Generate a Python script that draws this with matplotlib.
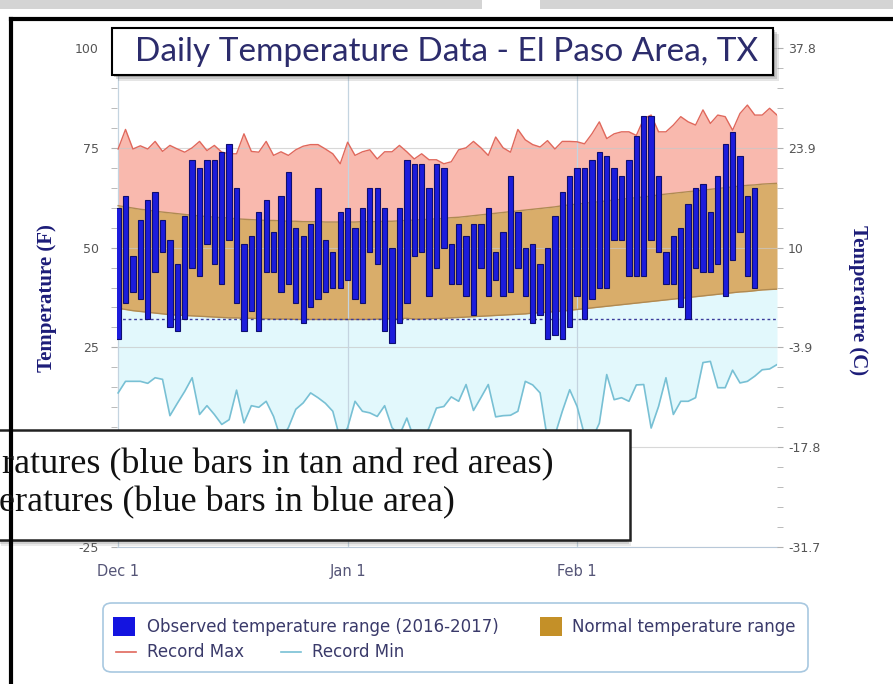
import numpy as np
import matplotlib.pyplot as plt
from matplotlib.patches import Rectangle, FancyBboxPatch
from matplotlib.lines import Line2D

plt.rcParams['axes.unicode_minus'] = False

# daily values in deg F, day 0 = Dec 1 2016
obs_high = [60, 63, 48, 57, 62, 64, 57, 52, 46, 58, 72, 70, 72, 72, 74, 76, 65, 51, 53, 59,
            62, 54, 63, 69, 55, 53, 56, 65, 52, 49, 59, 60, 55, 60, 65, 65, 60, 50, 60, 72,
            71, 71, 65, 71, 70, 51, 56, 53, 56, 56, 60, 49, 54, 68, 59, 50, 51, 46, 50, 58,
            64, 68, 70, 70, 72, 74, 73, 70, 68, 72, 78, 83, 83, 68, 49, 53, 55, 61, 65, 66,
            59, 68, 76, 79, 73, 63, 65]
obs_low = [27, 36, 39, 37, 32, 44, 49, 30, 29, 32, 45, 43, 51, 46, 41, 52, 36, 29, 34, 29,
           44, 44, 39, 41, 36, 31, 35, 37, 39, 40, 40, 42, 37, 36, 49, 46, 29, 26, 31, 36,
           48, 49, 38, 45, 50, 41, 41, 38, 33, 45, 38, 42, 38, 39, 45, 38, 31, 33, 27, 28,
           27, 30, 38, 32, 37, 40, 40, 52, 52, 43, 43, 43, 52, 49, 41, 41, 35, 32, 45, 44,
           44, 46, 38, 47, 54, 43, 40]

rec_max = [74.7, 79.6, 74.7, 75.5, 74.7, 76.6, 74.1, 75.6, 74.7, 73.9, 75.0, 76.6, 74.3, 75.6, 73.9,
           73.5, 73.5, 78.5, 74.1, 73.9, 76.6, 73.1, 74.0, 73.1, 74.5, 75.4, 75.8, 75.8, 74.7, 73.5,
           71.0, 76.4, 73.1, 74.0, 74.5, 72.2, 74.0, 74.0, 75.6, 74.0, 72.2, 73.5, 72.0, 72.0, 71.0,
           71.5, 74.5, 75.0, 76.6, 75.0, 73.1, 77.7, 75.0, 73.9, 79.6, 77.0, 75.8, 75.2, 76.8, 74.7,
           76.6, 76.6, 76.5, 76.0, 78.5, 81.5, 77.3, 78.5, 79.0, 79.0, 78.1, 82.3, 83.2, 79.0, 79.0,
           80.7, 82.8, 81.5, 80.7, 84.5, 81.1, 83.2, 82.8, 79.4, 83.6, 85.7, 83.2, 83.2, 84.9, 83.2]
rec_min = [13.6, 16.5, 16.5, 16.5, 16.0, 17.4, 17.0, 7.9, 11.0, 14.0, 17.4, 8.2, 10.4, 8.2, 5.7,
           6.9, 14.3, 6.1, 10.4, 10.0, 11.5, 7.7, 2.0, 4.9, 9.5, 11.1, 13.6, 12.4, 11.0, 9.0,
           2.0, 4.9, 11.5, 9.0, 8.6, 7.7, 10.4, 4.9, 3.0, 7.3, 2.0, 1.0, 4.9, 9.8, 10.2,
           12.6, 11.5, 15.7, 9.2, 12.4, 15.7, 7.6, 7.9, 8.0, 9.0, 16.5, 15.6, 13.6, 2.0, 3.0,
           9.0, 14.4, 10.2, 3.0, 2.0, 6.0, 18.2, 11.9, 12.4, 11.5, 15.6, 15.7, 4.8, 10.2, 17.4,
           8.2, 11.5, 11.5, 12.4, 21.2, 21.5, 14.9, 14.9, 19.3, 16.1, 16.5, 17.8, 19.4, 19.6, 20.7]
norm_high = [60.5, 60.2, 59.9, 59.6, 59.4, 59.1, 58.9, 58.7, 58.5, 58.3,
             58.1, 57.9, 57.8, 57.6, 57.5, 57.4, 57.2, 57.1, 57.0, 56.9,
             56.8, 56.8, 56.7, 56.6, 56.6, 56.5, 56.5, 56.5, 56.4, 56.4,
             56.4, 56.4, 56.4, 56.5, 56.5, 56.5, 56.6, 56.6, 56.7, 56.8,
             56.9, 57.0, 57.1, 57.2, 57.3, 57.5, 57.6, 57.8, 58.0, 58.2,
             58.4, 58.6, 58.8, 59.0, 59.2, 59.4, 59.6, 59.8, 60.0, 60.2,
             60.5, 60.7, 60.9, 61.1, 61.3, 61.5, 61.7, 61.9, 62.1, 62.3,
             62.5, 62.7, 62.9, 63.2, 63.4, 63.6, 63.8, 64.0, 64.2, 64.4,
             64.6, 64.8, 65.0, 65.2, 65.4, 65.6, 65.7, 65.9, 66.0, 66.1]
norm_low = [34.8, 34.5, 34.2, 34.0, 33.8, 33.6, 33.4, 33.2, 33.1, 33.0,
            32.9, 32.8, 32.7, 32.6, 32.5, 32.4, 32.4, 32.3, 32.3, 32.2,
            32.2, 32.1, 32.1, 32.1, 32.0, 32.0, 32.0, 32.0, 32.0, 32.0,
            32.0, 32.0, 32.0, 32.0, 32.0, 32.1, 32.1, 32.2, 32.2, 32.3,
            32.1, 32.1, 32.2, 32.2, 32.3, 32.4, 32.5, 32.6, 32.7, 32.8,
            32.9, 33.0, 33.1, 33.2, 33.3, 33.4, 33.6, 33.7, 33.8, 34.0,
            34.1, 34.3, 34.5, 34.7, 34.9, 35.1, 35.3, 35.5, 35.7, 35.9,
            36.1, 36.3, 36.5, 36.7, 36.9, 37.1, 37.3, 37.5, 37.7, 37.9,
            38.1, 38.3, 38.5, 38.7, 38.9, 39.0, 39.2, 39.4, 39.5, 39.6]

month_ticks = [0, 31, 62]
month_labels = ['Dec 1', 'Jan 1', 'Feb 1']
f_ticks = [-25, 0, 25, 50, 75, 100]
f_labels = ['-25', '', '25', '50', '75', '100']   # the 0 label sits under the note box
c_labels = ['-31.7', '-17.8', '-3.9', '10', '23.9', '37.8']
freezing = 32

W, H = 893, 684
def fx(x):
    return x / W
def fy(y):
    return 1 - y / H

days = np.arange(len(rec_max))
obs_days = np.arange(len(obs_high))

fig = plt.figure(figsize=(8.93, 6.84), dpi=100)
ax = fig.add_axes([fx(117), fy(547), fx(777) - fx(117), fy(48) - fy(547)])

ax.fill_between(days, rec_min, norm_low, color='#e2f8fc', lw=0, zorder=1)
ax.fill_between(days, norm_high, rec_max, color='#f9b9ae', lw=0, zorder=1)
ax.fill_between(days, norm_low, norm_high, color='#d9ad6a', lw=0, zorder=1)
ax.plot(days, norm_high, color='#b08a52', lw=1, zorder=2)
ax.plot(days, norm_low, color='#b08a52', lw=1, zorder=2)
ax.plot(days, rec_max, color='#e0685c', lw=1, zorder=3)
ax.plot(days, rec_min, color='#78c0d4', lw=1.2, zorder=3)
ax.axhline(freezing, color='#3c3c9c', lw=1, ls=(0, (2, 2)), zorder=3)

for t in f_ticks:
    ax.axhline(t, color='#c8c8c8', lw=0.8, alpha=0.7, zorder=1.5)
for t in month_ticks:
    ax.axvline(t, color='#c4d4e0', lw=0.9, zorder=1.5)

ax.bar(obs_days, np.array(obs_high) - np.array(obs_low), bottom=obs_low, width=0.72,
       color='#1c1cdc', edgecolor='#0e0e70', linewidth=0.8, zorder=4)

ax.set_xlim(-0.15, 89)
ax.set_ylim(-25, 100)
ax.set_xticks(month_ticks)
ax.set_xticklabels(month_labels)
ax.set_yticks(f_ticks)
ax.set_yticklabels(f_labels)
ax.set_yticks(np.arange(-25, 101, 5), minor=True)
for s in ['top', 'left', 'right']:
    ax.spines[s].set_visible(False)
ax.spines['bottom'].set_color('#b8c8d8')
ax.tick_params(axis='x', length=0, pad=12, labelsize=10.5, labelcolor='#555577')
ax.tick_params(axis='y', which='both', length=4, color='#b0b0b0', pad=9,
               labelsize=9, labelcolor='#555555')

ax2 = ax.twinx()
ax2.set_ylim(ax.get_ylim())
ax2.set_yticks(f_ticks)
ax2.set_yticklabels(c_labels)
ax2.set_yticks(np.arange(-25, 101, 5), minor=True)
for s in ['top', 'left', 'right', 'bottom']:
    ax2.spines[s].set_visible(False)
ax2.tick_params(axis='y', which='both', length=4, color='#b0b0b0', pad=4,
                labelsize=9, labelcolor='#555555')

# axis titles placed in figure pixels
fig.text(fx(47), fy(298), 'Temperature (F)', rotation=90, ha='center', va='center',
         family='Liberation Serif', fontweight='bold', fontsize=15, color='#1c1c78')
fig.text(fx(858), fy(300), 'Temperature (C)', rotation=270, ha='center', va='center',
         family='Liberation Serif', fontweight='bold', fontsize=15, color='#1c1c78')

# screenshot frame
fig.add_artist(Rectangle((0, fy(9)), fx(482), fy(0) - fy(9), transform=fig.transFigure,
                         color='#d4d4d4', lw=0))
fig.add_artist(Rectangle((fx(540), fy(9)), 1 - fx(540), fy(0) - fy(9), transform=fig.transFigure,
                         color='#d4d4d4', lw=0))
fig.add_artist(Line2D([fx(11), 1], [fy(19), fy(19)], transform=fig.transFigure, color='black', lw=3))
fig.add_artist(Line2D([fx(11), fx(11)], [0, fy(19)], transform=fig.transFigure, color='black', lw=3))

# title box
for off, a in [(6, 0.15), (4, 0.2), (2, 0.3)]:
    fig.add_artist(Rectangle((fx(112 + off), fy(75 + off)), fx(773) - fx(112), fy(28) - fy(75),
                             transform=fig.transFigure, color='#555555', alpha=a, lw=0))
fig.add_artist(Rectangle((fx(112), fy(75)), fx(773) - fx(112), fy(28) - fy(75),
                         transform=fig.transFigure, facecolor='white', edgecolor='black', lw=1.5))
fig.text(fx(447), fy(52), 'Daily Temperature Data - El Paso Area, TX', ha='center', va='center',
         family='Lato', fontsize=24, color='#2c2c6c')

# overlay text box
for off, a in [(6, 0.12), (4, 0.18), (2, 0.25)]:
    fig.add_artist(Rectangle((fx(-5 + off), fy(540 + off)), fx(630), fy(430) - fy(540),
                             transform=fig.transFigure, color='#555555', alpha=a, lw=0))
fig.add_artist(Rectangle((fx(-5), fy(540)), fx(635), fy(430) - fy(540),
                         transform=fig.transFigure, facecolor='white', edgecolor='#222222', lw=1.8))
fig.text(fx(2), fy(465), 'ratures (blue bars in tan and red areas)', ha='left', va='center',
         family='Liberation Serif', fontsize=26, color='#111111')
fig.text(fx(-1), fy(503), 'eratures (blue bars in blue area)', ha='left', va='center',
         family='Liberation Serif', fontsize=26, color='#111111')

# legend
fig.add_artist(FancyBboxPatch((fx(103), fy(672)), fx(808) - fx(103), fy(603) - fy(672),
                              boxstyle='round,pad=0,rounding_size=0.01', transform=fig.transFigure,
                              facecolor='white', edgecolor='#a8c8e0', lw=1.2))
fig.add_artist(Rectangle((fx(113), fy(636)), fx(22), fy(617) - fy(636), transform=fig.transFigure,
                         color='#1414e0', lw=0))
fig.text(fx(147), fy(627), 'Observed temperature range (2016-2017)', va='center',
         fontsize=12, color='#3a3a6a')
fig.add_artist(Rectangle((fx(540), fy(636)), fx(22), fy(617) - fy(636), transform=fig.transFigure,
                         color='#c49028', lw=0))
fig.text(fx(572), fy(627), 'Normal temperature range', va='center', fontsize=12, color='#3a3a6a')
fig.add_artist(Line2D([fx(116), fx(136)], [fy(652), fy(652)], transform=fig.transFigure,
                      color='#e0685c', lw=1.2))
fig.text(fx(147), fy(652), 'Record Max', va='center', fontsize=12, color='#3a3a6a')
fig.add_artist(Line2D([fx(281), fx(301)], [fy(652), fy(652)], transform=fig.transFigure,
                      color='#78c0d4', lw=1.2))
fig.text(fx(312), fy(652), 'Record Min', va='center', fontsize=12, color='#3a3a6a')

fig.savefig('out.png', dpi=100)
